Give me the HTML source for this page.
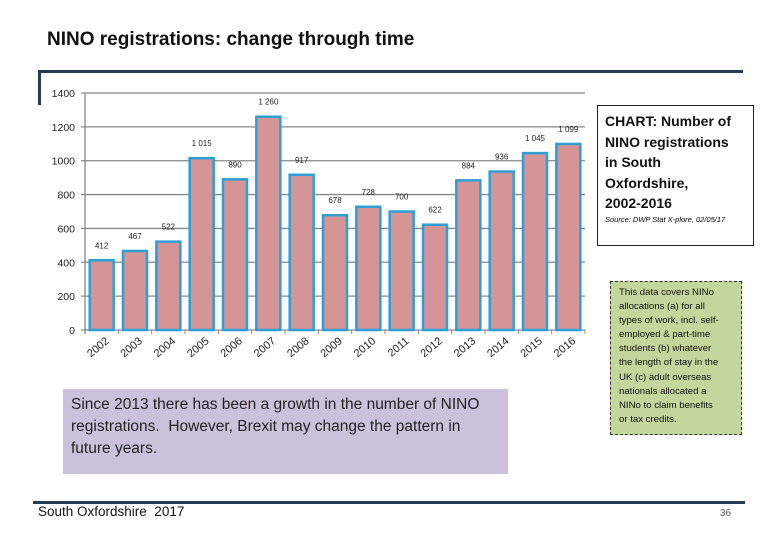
<!DOCTYPE html>
<html><head><meta charset="utf-8"><style>
body{margin:0;background:#fff;font-family:"Liberation Sans",sans-serif;}
#root{position:relative;width:780px;height:540px;overflow:hidden;}
.abs{position:absolute;}
</style></head><body><div id="root">
<div class="abs" style="left:47px;top:29px;font-size:19px;font-weight:bold;color:#111;">NINO registrations: change through time</div>
<div class="abs" style="left:38px;top:70px;width:705px;height:3px;background:#253a55;"></div>
<div class="abs" style="left:38px;top:70px;width:3px;height:35px;background:#253a55;"></div>
<svg class="abs" style="left:0;top:0" width="600" height="380">
<g id="g"></g></svg>
<div class="abs" style="left:597px;top:105px;width:157px;height:141px;border:1px solid #222;box-sizing:border-box;padding:5px 0 0 7px;">
<div style="font-size:14px;font-weight:bold;line-height:20.5px;color:#111;white-space:nowrap;">CHART: Number of<br>NINO registrations<br>in South<br>Oxfordshire,<br>2002-2016</div>
<div style="font-size:7.5px;font-style:italic;margin-top:1px;white-space:nowrap;">Source: DWP Stat X-plore, 02/05/17</div></div>
<div class="abs" style="left:610px;top:281px;width:132px;height:154px;background:#c3d69b;border:1px dashed #333;box-sizing:border-box;padding:4px 0 0 8px;font-size:9.6px;line-height:14.1px;color:#111;white-space:nowrap;">This data covers NINo<br>allocations (a) for all<br>types of work, incl. self-<br>employed &amp; part-time<br>students (b) whatever<br>the length of stay in the<br>UK (c) adult overseas<br>nationals allocated a<br>NINo to claim benefits<br>or tax credits.</div>
<div class="abs" style="left:63px;top:389px;width:445px;height:85px;background:#ccc1da;box-sizing:border-box;padding:5px 0 0 8px;font-size:15.5px;line-height:22px;color:#222;white-space:nowrap;">Since 2013 there has been a growth in the number of NINO<br>registrations.&nbsp; However, Brexit may change the pattern in<br>future years.</div>
<div class="abs" style="left:33px;top:501px;width:712px;height:3px;background:#253a55;"></div>
<div class="abs" style="left:38px;top:504px;font-size:13.5px;color:#111;">South Oxfordshire&nbsp; 2017</div>
<div class="abs" style="left:720px;top:508px;font-size:10px;color:#555;">36</div>
<script>
const categories=["2002","2003","2004","2005","2006","2007","2008","2009","2010","2011","2012","2013","2014","2015","2016"];
const values=[412,467,522,1015,890,1260,917,678,728,700,622,884,936,1045,1099];
const valueLabels=["412","467","522","1 015","890","1 260","917","678","728","700","622","884","936","1 045","1 099"];
const yTicks=[0,200,400,600,800,1000,1200,1400];
const NS="http://www.w3.org/2000/svg";
const g=document.getElementById('g');
const x0=85,x1=585,y0=330,yTop=93,yMax=1400;
const y=v=>y0-(v/yMax)*(y0-yTop);
const step=(x1-x0)/categories.length;
const xc=i=>x0+step*(i+0.5);
function mk(t,a){const e=document.createElementNS(NS,t);for(const k in a)e.setAttribute(k,a[k]);g.appendChild(e);return e;}
yTicks.forEach(t=>{
 const l=mk('line',{x1:x0-4,x2:x1,y1:y(t),y2:y(t),stroke:'#888','stroke-width':1.3});
 
 
 const tx=mk('text',{x:75,y:y(t)+4,'text-anchor':'end','font-size':10.5,fill:'#222'});
 tx.textContent=t;
 
 
});
const ax=mk('line',{x1:x0,x2:x0,y1:yTop,y2:y0+4,stroke:'#888','stroke-width':1.3});


for(let i=0;i<=categories.length;i++){const tk=mk('line',{x1:x0+step*i,x2:x0+step*i,y1:y0,y2:y0+4,stroke:'#888'});
 
 }
categories.forEach((c,i)=>{
 const w=24,top=y(values[i]);
 const r=mk('rect',{x:xc(i)-w/2,y:top,width:w,height:y0-top,fill:'#d59596',stroke:'#2e9fd6','stroke-width':2.5});
 
 
 const vl=mk('text',{x:xc(i),y:top-12,'text-anchor':'middle','font-size':8,fill:'#222'});
 vl.textContent=valueLabels[i];
 
 
 const xl=mk('text',{x:xc(i)+8,y:y0+12,'text-anchor':'end','font-size':11,fill:'#222',transform:`rotate(-40 ${xc(i)+8} ${y0+12})`});
 xl.textContent=c;
 
 
});
</script>
</div></body></html>
